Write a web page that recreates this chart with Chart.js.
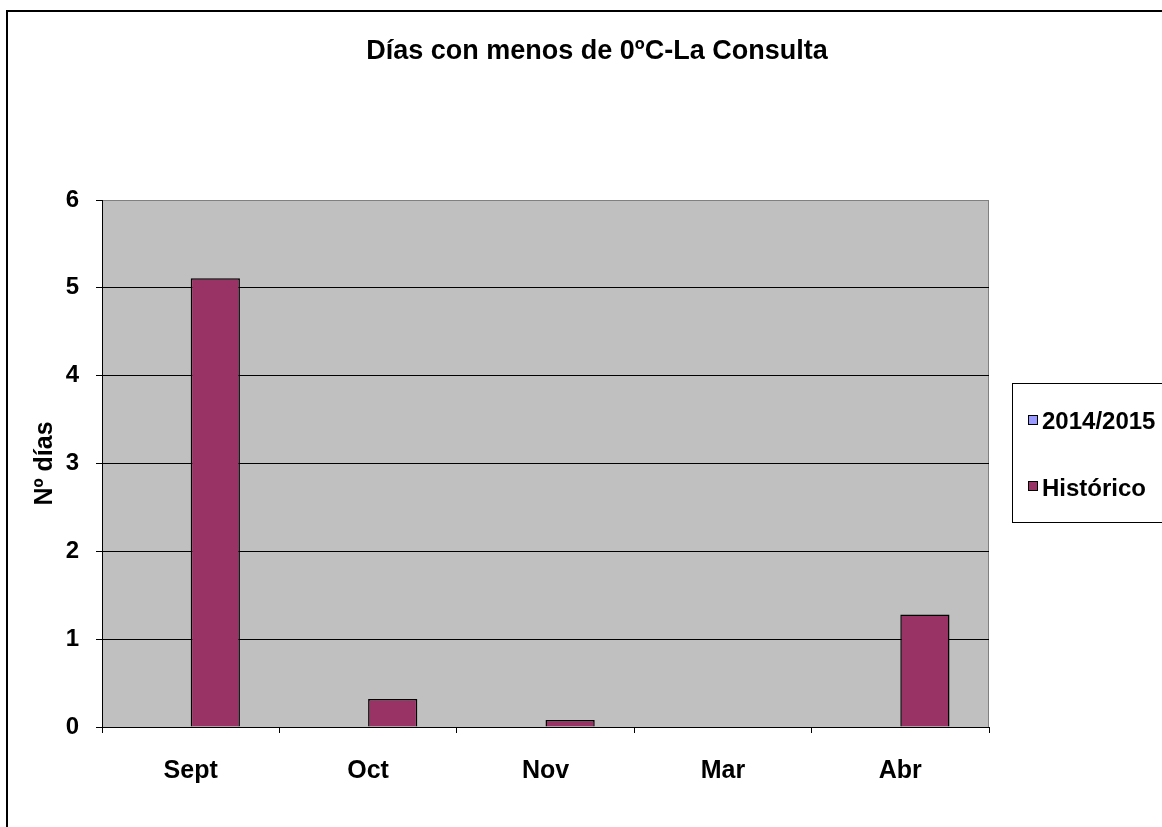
<!DOCTYPE html>
<html>
<head>
<meta charset="utf-8">
<script src="https://cdn.jsdelivr.net/npm/chart.js@4.4.1/dist/chart.umd.min.js"></script>
<style>
  html, body { margin: 0; padding: 0; background: #fff; }
  #wrap { position: relative; width: 1162px; height: 827px; }
</style>
</head>
<body>
<div id="wrap"><canvas id="c" width="1162" height="827"></canvas></div>
<script>
const categories = ['Sept', 'Oct', 'Nov', 'Mar', 'Abr'];
const serie2014 = [0, 0, 0, 0, 0];
const serieHistorico = [5.11, 0.32, 0.08, 0, 1.28];
const yTicks = [0, 1, 2, 3, 4, 5, 6];
const titleText = 'Días con menos de 0ºC-La Consulta';
const yTitle = 'Nº días';

const FONT = 'Liberation Sans, Arial, sans-serif';

const decor = {
  id: 'decor',
  beforeDraw(chart) {
    const { ctx, chartArea: a } = chart;
    ctx.save();
    ctx.fillStyle = '#fff';
    ctx.fillRect(0, 0, chart.width, chart.height);
    // outer frame
    ctx.strokeStyle = '#000';
    ctx.lineWidth = 2;
    ctx.beginPath();
    ctx.moveTo(chart.width + 5, 11);
    ctx.lineTo(7, 11);
    ctx.lineTo(7, chart.height + 5);
    ctx.stroke();
    // plot background
    ctx.fillStyle = '#C0C0C0';
    ctx.fillRect(a.left, a.top, a.right - a.left, a.bottom - a.top);
    ctx.strokeStyle = '#808080';
    ctx.lineWidth = 1;
    ctx.beginPath();
    ctx.moveTo(a.right - 0.5, a.top);
    ctx.lineTo(a.right - 0.5, a.bottom);
    ctx.stroke();
    // title
    ctx.fillStyle = '#000';
    ctx.font = 'bold 27px ' + FONT;
    ctx.textAlign = 'center';
    ctx.textBaseline = 'middle';
    ctx.fillText(titleText, 597, 52);
    ctx.restore();
  },
  afterDraw(chart) {
    const { ctx } = chart;
    ctx.save();
    // legend box
    ctx.fillStyle = '#fff';
    ctx.fillRect(1012, 383, 160, 139);
    ctx.strokeStyle = '#000';
    ctx.lineWidth = 1;
    ctx.strokeRect(1012.5, 383.5, 160, 139);
    const sq = [420, 486];
    const ty = [422, 489];
    ctx.font = 'bold 24px ' + FONT;
    ctx.textBaseline = 'middle';
    ctx.textAlign = 'left';
    chart.data.datasets.forEach((ds, i) => {
      ctx.fillStyle = ds.backgroundColor;
      ctx.fillRect(1028, sq[i] - 5, 10, 10);
      ctx.strokeStyle = '#000';
      ctx.lineWidth = 1;
      ctx.strokeRect(1028.5, sq[i] - 4.5, 9, 9);
      ctx.fillStyle = '#000';
      ctx.fillText(ds.label, 1042, ty[i]);
    });
    ctx.restore();
  }
};

new Chart(document.getElementById('c'), {
  type: 'bar',
  data: {
    labels: categories,
    datasets: [
      { label: '2014/2015', data: serie2014, backgroundColor: '#9999FF', borderColor: '#000', borderWidth: 0 },
      { label: 'Histórico', data: serieHistorico, backgroundColor: '#993366', borderColor: '#000', borderWidth: 1.5 }
    ]
  },
  options: {
    responsive: false,
    animation: false,
    devicePixelRatio: 1,
    layout: { padding: { top: 200, right: 173, bottom: 0, left: 0 } },
    categoryPercentage: 0.555,
    barPercentage: 1,
    plugins: {
      legend: { display: false },
      title: { display: false },
      tooltip: { enabled: false }
    },
    scales: {
      x: {
        afterFit(s) { s.height = 100; },
        grid: { drawOnChartArea: false, drawTicks: true, tickLength: 6, color: '#000', offset: true },
        border: { color: '#000', width: 1 },
        ticks: { color: '#000', font: { family: FONT, size: 25, weight: 'bold' }, padding: 23 }
      },
      y: {
        min: 0, max: 6,
        afterFit(s) { s.width = 102; },
        afterBuildTicks(s) { s.ticks = yTicks.map(v => ({ value: v })); },
        grid: {
          color: (c) => (c.tick && c.tick.value === 6 ? '#808080' : '#000'),
          tickColor: '#000',
          tickLength: 6,
          lineWidth: 1
        },
        border: { color: '#000', width: 1 },
        ticks: { color: '#000', font: { family: FONT, size: 24, weight: 'bold' }, padding: 17, stepSize: 1 },
        title: {
          display: true, text: yTitle, color: '#000',
          font: { family: FONT, size: 25, weight: 'bold' },
          padding: { top: 30, bottom: 0 }
        }
      }
    }
  },
  plugins: [decor]
});
</script>
</body>
</html>
